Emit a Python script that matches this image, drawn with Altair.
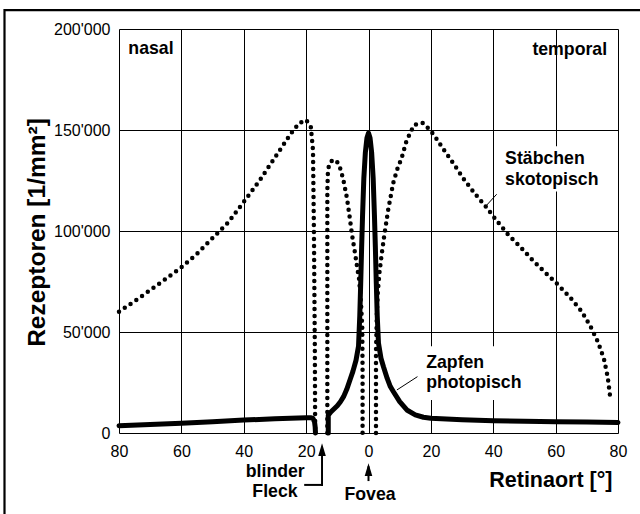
import altair as alt
import pandas as pd

FONT = "Liberation Sans"

# ---- Zapfen (cones, photopic) : solid line, two segments (blind spot gap)
cone_x_nasal = [-80, -70, -60, -50, -40, -30, -20, -18.6, -17.8, -17.3, -17.1, -17.0]
cone_y_nasal = [3600, 4200, 4800, 5600, 6400, 7000, 7600, 7600, 7200, 5500, 3000, 0]
cone_x_temp = [-12.9, -12.9, -12, -10, -9, -8, -7, -6, -5, -4, -3.2, -2.8, -2.5, -2.2,
               -1.9, -1.5, -1.0, -0.5, 0, 0.5, 1.0, 1.5, 1.9, 2.2, 2.5, 2.8, 3.2, 4,
               4.8, 6, 7, 8, 10, 12.3, 15, 17.6, 20, 30, 40, 50, 60, 70, 80]
cone_y_temp = [0, 8800, 10500, 13500, 15500, 18000, 21500, 26000, 30500, 36000, 43000,
               58000, 74000, 92000, 108000, 126000, 139000, 146000, 148500, 146000,
               139000, 126000, 108000, 92000, 74000, 58000, 44500, 37000, 32800, 27000,
               23000, 20400, 15500, 11400, 9000, 7800, 7300, 6600, 6100, 5800, 5600,
               5400, 5200]

# ---- Stäbchen (rods, scotopic) : dotted line, three segments
rod_x_1 = [-80, -75, -70, -65, -60, -55, -50, -45, -40, -35, -30, -25, -22.3, -20,
           -18.5, -17.8, -17.5, -17.2, -17.1]
rod_y_1 = [60000, 65300, 70700, 76300, 82000, 88700, 96500, 104200, 114400, 124800,
           136400, 148000, 153300, 155000, 151600, 140000, 100000, 40000, 0]
rod_x_2 = [-13.2, -13.2, -13.0, -12.5, -11.5, -10.5, -9.5, -8.75, -8.0, -6.9, -6.05,
           -5.3, -4.4, -3.5, -3.0, -2.4, -2.0, -1.9, -1.9]
rod_y_2 = [0, 120000, 130000, 133500, 135100, 135000, 133000, 129400, 124800, 116200,
           107000, 98300, 89800, 80700, 76000, 64000, 52000, 30000, 0]
rod_x_3 = [2.4, 2.4, 2.7, 3.0, 3.5, 4.2, 5.0, 6.3, 7.9, 9.2, 10.6, 12.2, 14.6, 17.3,
           19.4, 21, 24.2, 27.4, 30.6, 34.1, 37.8, 41.1, 44.8, 48.7, 52.6, 56.6, 60.5,
           64.6, 68.3, 71.1, 73.6, 75.5, 76.7, 77.4]
rod_y_3 = [0, 40000, 60000, 70000, 79300, 88100, 97200, 110400, 123600, 130500, 136000,
           144700, 152500, 153600, 150500, 147500, 140100, 133000, 125600, 118500,
           111700, 105100, 98200, 92100, 85600, 79500, 73800, 67200, 60300, 53000,
           45000, 36600, 27700, 19000]

x_ticks = [-80, -60, -40, -20, 0, 20, 40, 60, 80]
y_ticks = [0, 50000, 100000, 150000, 200000]


def seg_frame(xs, ys, seg):
    return pd.DataFrame({"x": xs, "y": ys, "seg": seg, "i": list(range(len(xs)))})


cones = pd.concat([seg_frame(cone_x_nasal, cone_y_nasal, "a"),
                   seg_frame(cone_x_temp, cone_y_temp, "b")])
rods = pd.concat([seg_frame(rod_x_1, rod_y_1, "a"),
                  seg_frame(rod_x_2, rod_y_2, "b"),
                  seg_frame(rod_x_3, rod_y_3, "c")])

x_enc = alt.X(
    "x:Q",
    scale=alt.Scale(domain=[-80, 80], nice=False, zero=False),
    axis=alt.Axis(
        values=x_ticks, labelExpr="'' + abs(datum.value)", grid=True,
        gridColor="black", gridWidth=1, gridOpacity=1, ticks=False, domain=False,
        labelFlush=False, labelPadding=10, labelFontSize=16, labelFont=FONT,
        labelColor="black", title="Retinaort [°]", titleFont=FONT, titleFontSize=21.5,
        titleFontWeight="bold", titleColor="black", titleX=493, titleY=47,
        titleAlign="right", titleBaseline="middle", titleAnchor="end",
    ),
)
y_enc = alt.Y(
    "y:Q",
    scale=alt.Scale(domain=[0, 200000], nice=False),
    axis=alt.Axis(
        values=y_ticks,
        labelExpr="replace(format(datum.value, ','), ',', \"'\")",
        grid=True, gridColor="black", gridWidth=1, gridOpacity=1, ticks=False,
        domain=False, labelPadding=9, labelFontSize=16, labelFont=FONT,
        labelColor="black", labelFlush=False, title="Rezeptoren [1/mm²]",
        titleFont=FONT, titleFontSize=24.5, titleFontWeight="bold", titleColor="black",
        titleX=-82, titleY=203, titleAngle=270, titleAlign="center",
        titleBaseline="middle",
    ),
)

# outer frame of the figure
frame = alt.Chart(pd.DataFrame({"k": [0]})).mark_rect(
    filled=False, stroke="black", strokeWidth=2.2, clip=False
).encode(x=alt.value(-114.5), x2=alt.value(560), y=alt.value(-18.8), y2=alt.value(520))

cone_line = alt.Chart(cones).mark_line(
    color="black", strokeWidth=5, strokeJoin="round", strokeCap="round"
).encode(x=x_enc, y=y_enc, detail="seg:N", order="i:Q")

rod_line = alt.Chart(rods).mark_line(
    color="black", strokeWidth=4.5, strokeCap="round", strokeDash=[0, 7]
).encode(x="x:Q", y="y:Q", detail="seg:N", order="i:Q")

# white boxes behind the curve labels
boxes = pd.DataFrame({"x": [42.5, 17.8], "x2": [71, 51],
                      "y": [119500, 16300], "y2": [142000, 42900]})
box_layer = alt.Chart(boxes).mark_rect(color="white").encode(
    x="x:Q", x2="x2:Q", y="y:Q", y2="y2:Q")

leaders = pd.DataFrame({"x": [41.1, 15.7], "x2": [37.9, 9.1],
                        "y": [118200, 27900], "y2": [112800, 21300]})
leader_layer = alt.Chart(leaders).mark_rule(color="black", strokeWidth=1).encode(
    x="x:Q", x2="x2:Q", y="y:Q", y2="y2:Q")

arrows = pd.DataFrame({"x": [0, -14.9, -20.3], "x2": [0, -14.9, -14.9],
                       "y": [-17000, -8000, -25700], "y2": [-23300, -25700, -25700]})
arrow_layer = alt.Chart(arrows).mark_rule(
    color="black", strokeWidth=2, strokeCap="square", clip=False
).encode(x="x:Q", x2="x2:Q", y="y:Q", y2="y2:Q")

heads = pd.DataFrame({"x": [0, -14.9], "y": [-15000, -5100]})
head_layer = alt.Chart(heads).mark_point(
    shape="M0,0 L-0.6,2 L0.6,2 Z", filled=True, color="black", opacity=1,
    size=160, clip=False
).encode(x="x:Q", y="y:Q")

left_txt = pd.DataFrame({
    "x": [-77.0, 43.8, 43.8, 18.5, 18.5],
    "y": [190000, 135600, 125200, 34900, 25000],
    "t": ["nasal", "Stäbchen", "skotopisch", "Zapfen", "photopisch"]})
right_txt = pd.DataFrame({"x": [76.5], "y": [189600], "t": ["temporal"]})
center_txt = pd.DataFrame({"x": [-29.9, -30.0, 0.5],
                           "y": [-19500, -29200, -30700],
                           "t": ["blinder", "Fleck", "Fovea"]})


def txt(df, align):
    return alt.Chart(df).mark_text(
        font=FONT, fontSize=17.7, fontWeight="bold", color="black",
        align=align, baseline="middle", clip=False
    ).encode(x="x:Q", y="y:Q", text="t:N")


chart = alt.layer(
    frame, cone_line, rod_line, box_layer, leader_layer, arrow_layer, head_layer,
    txt(left_txt, "left"), txt(right_txt, "right"), txt(center_txt, "center"),
).properties(
    width=499, height=404,
    padding={"left": 119, "top": 29, "right": 22, "bottom": 81},
    autosize=alt.AutoSizeParams(type="none"),
).configure_view(stroke="black", strokeWidth=2.5).configure(font=FONT)

chart.save("out.html", embed_options={"renderer": "svg", "actions": False})
